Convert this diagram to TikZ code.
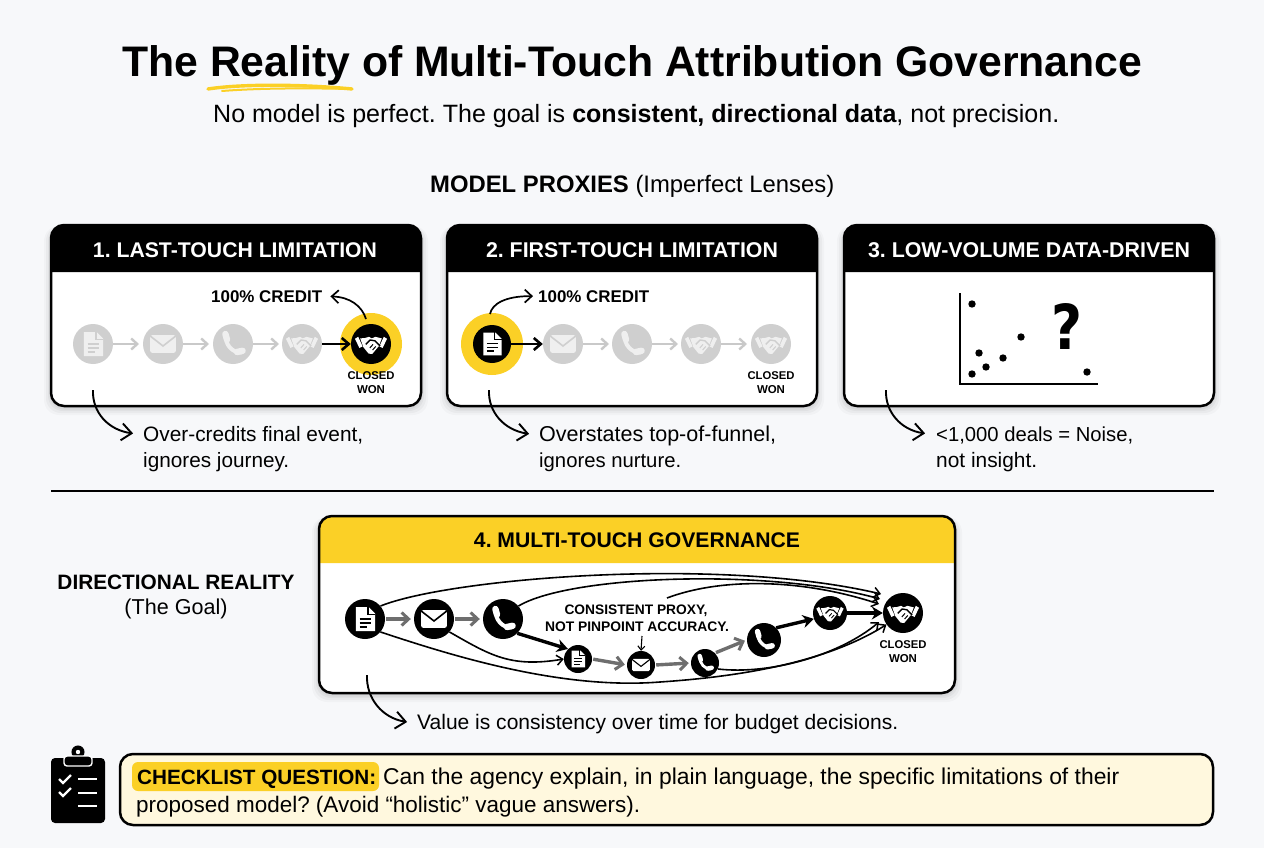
\documentclass[tikz,border=0pt]{standalone}
\usepackage{graphicx}
\usepackage{fontspec}
\setmainfont{Liberation Sans}
\newfontfamily\heavyq{DejaVu Sans}
\frenchspacing
\usetikzlibrary{arrows.meta}
\definecolor{bgc}{HTML}{F7F8FA}
\definecolor{ylw}{HTML}{FBD026}
\definecolor{gcirc}{HTML}{CFCFCF}
\definecolor{gicon}{HTML}{EFEFEF}
\definecolor{garrow}{HTML}{C9C9C9}
\definecolor{darrow}{HTML}{6E6E6E}
\definecolor{cream}{HTML}{FFF8DE}
\newcommand\fitw[2]{\resizebox{#1pt}{!}{#2}}
\tikzset{
  x=1pt,y=-1pt,
  txt/.style={inner sep=0pt,anchor=base west,text=black},
  ctr/.style={inner sep=0pt,anchor=base,text=black},
  dot/.style={circle,fill=black,inner sep=0pt,minimum size=7.4pt},
  callout/.style={line width=1.9pt,-{Straight Barb[length=10pt,width=17pt,line width=1.9pt]},black},
  credit/.style={line width=1.7pt,-{Straight Barb[length=7pt,width=13pt,line width=1.7pt]},black},
  lgarrow/.style={line width=2.6pt,-{Straight Barb[length=6pt,width=11pt,line width=2.4pt]},garrow},
  dkarrow/.style={line width=2.8pt,-{Straight Barb[length=7pt,width=12pt,line width=2.6pt]},black},
  grayflow/.style={line width=3.4pt,-{Straight Barb[length=7pt,width=13pt,line width=3pt]},darrow},
  blackflow/.style={line width=3.4pt,-{Stealth[length=11pt,width=13pt]},black},
  thinflow/.style={line width=1.6pt,-{Straight Barb[length=6pt,width=10pt,line width=1.5pt]},black},
}
% icons drawn in units of the circle radius
\newcommand\docicon[3]{\begin{scope}[shift={(#1)},x=#2pt,y=-#2pt]
  \fill[#3] (-0.46,-0.6)--(0.18,-0.6)--(0.5,-0.28)--(0.5,0.6)--(-0.46,0.6)--cycle;
  \draw[bgtmp,line width=0.07*#2pt] (0.14,-0.62)--(0.14,-0.24)--(0.52,-0.24);
  \draw[bgtmp,line width=0.09*#2pt] (-0.27,-0.02)--(0.3,-0.02) (-0.27,0.18)--(0.3,0.18) (-0.27,0.38)--(0.12,0.38);
\end{scope}}
\newcommand\mailicon[3]{\begin{scope}[shift={(#1)},x=#2pt,y=-#2pt]
  \fill[#3,rounded corners=0.1*#2pt] (-0.64,-0.44) rectangle (0.64,0.44);
  \draw[bgtmp,line width=0.08*#2pt] (-0.64,-0.4)--(0,0.1)--(0.64,-0.4);
\end{scope}}
\newcommand\phoneicon[3]{\begin{scope}[shift={(#1)},x=#2pt,y=-#2pt]
  \draw[#3,line width=0.2*#2pt,line cap=round] (-0.36,-0.42) .. controls (-0.4,0.02) and (-0.02,0.46) .. (0.42,0.42);
  \draw[#3,line width=0.32*#2pt,line cap=round] (-0.38,-0.5)--(-0.3,-0.22);
  \draw[#3,line width=0.32*#2pt,line cap=round] (0.2,0.4)--(0.48,0.34);
\end{scope}}
\newcommand\handicon[3]{\begin{scope}[shift={(#1)},x=#2pt,y=-#2pt]
  \fill[#3] (-0.8,-0.26)--(-0.64,-0.36)--(-0.42,0.12)--(-0.58,0.2)--cycle;
  \fill[#3] (0.8,-0.26)--(0.64,-0.36)--(0.42,0.12)--(0.58,0.2)--cycle;
  \fill[#3] (-0.54,-0.28)--(-0.3,-0.3)--(-0.1,-0.36)--(0.04,-0.28)--(0.22,-0.36)--(0.54,-0.28)--(0.38,0.12)--(0.06,0.5)--(-0.12,0.48)--(-0.38,0.16)--cycle;
  \draw[bgtmp,line width=0.07*#2pt,line join=round] (-0.26,0.02)--(-0.04,-0.2)--(0.2,-0.16)--(0.46,0.1);
  \draw[bgtmp,line width=0.05*#2pt] (0.24,0.12)--(0.08,0.3) (0.1,0.02)--(-0.06,0.2);
\end{scope}}
% \touch{name}{x}{y}{r}{icon}{bg}{fg}
\newcommand\touch[7]{%
  \colorlet{bgtmp}{#6}%
  \node[circle,fill=#6,inner sep=0pt,minimum size=2*#4pt] (#1) at (#2,#3) {};
  \csname #5icon\endcsname{#1}{#4}{#7}}
% \card{name}{x1}{y1}{x2}{y2}{yh}{header colour}
\newcommand\card[7]{%
  \foreach \s/\o in {7/0.025,5/0.03,3/0.035,1.5/0.04}{
    \fill[black,opacity=\o,rounded corners=15pt] (#2-\s,#3+1) rectangle (#4+\s,#5+\s+2);}
  \node[fill=white,rounded corners=13pt,inner sep=0pt,minimum width=(#4-#2)*1pt,minimum height=(#5-#3)*1pt] (#1) at ({(#2+#4)/2},{(#3+#5)/2}) {};
  \fill[#7] (#2,#6) [rounded corners=13pt] -- (#2,#3) -- (#4,#3) [sharp corners] -- (#4,#6) -- cycle;
  \draw[black,line width=2.5pt,rounded corners=13pt] (#2,#3) rectangle (#4,#5);}
\begin{document}
\begin{tikzpicture}
\useasboundingbox (0,0) rectangle (1264,848);
\fill[bgc] (0,0) rectangle (1264,848);

% title
\draw[ylw,line width=3.4pt,line cap=round] (208,89) .. controls (240,84) and (300,84) .. (352,89);
\draw[ylw,line width=2pt,line cap=round] (222,91) .. controls (260,88) and (310,88) .. (350,89);
\node[txt] (title) at (122,77) {\fitw{1020}{\bfseries The Reality of Multi-Touch Attribution Governance}};
\node[txt] (subtitle) at (213,123) {\fitw{846}{No model is perfect. The goal is \textbf{consistent, directional data}, not precision.}};
\node[txt] (proxies) at (430,192) {\fitw{404}{\textbf{MODEL PROXIES} (Imperfect Lenses)}};

% cards
\card{card1}{51}{225}{421}{406}{272}{black}
\card{card2}{447}{225}{817}{406}{272}{black}
\card{card3}{844}{225}{1214}{406}{272}{black}
\node[ctr,text=white] (head1) at (235,257) {\fitw{284}{\bfseries 1. LAST-TOUCH LIMITATION}};
\node[ctr,text=white] (head2) at (632,257) {\fitw{292}{\bfseries 2. FIRST-TOUCH LIMITATION}};
\node[ctr,text=white] (head3) at (1029,257) {\fitw{322}{\bfseries 3. LOW-VOLUME DATA-DRIVEN}};

% card 1
\touch{a1}{93}{344}{20}{doc}{gcirc}{gicon}
\touch{a2}{163}{344}{20}{mail}{gcirc}{gicon}
\touch{a3}{233}{344}{20}{phone}{gcirc}{gicon}
\touch{a4}{302}{344}{20}{hand}{gcirc}{gicon}
\node[circle,fill=ylw,inner sep=0pt,minimum size=62pt] (aring) at (371,344) {};
\touch{a5}{371}{344}{20}{hand}{black}{white}
\draw[lgarrow] (a1) ++(20,0) -- ++(26,0);
\draw[lgarrow] (a2) ++(20,0) -- ++(26,0);
\draw[lgarrow] (a3) ++(20,0) -- ++(26,0);
\draw[dkarrow] (a4.east) -- (a5.west);
\node[txt] (credit1) at (211,302) {\fitw{111}{\bfseries 100\% CREDIT}};
\draw[credit,shorten >=8pt] (366,319) .. controls (362,306) and (350,297) .. (credit1.east);
\node[ctr] (cw1) at (371,379) {\fitw{47}{\bfseries CLOSED}};
\node[ctr] (cw2) at (371,393) {\fitw{28}{\bfseries WON}};
\coordinate (s1) at (93,390);
\node[txt] (t1a) at (143,441) {\fitw{220}{Over-credits final event,}};
\node[txt] (t1b) at (143,467) {\fitw{146}{ignores journey.}};
\draw[callout,shorten >=10pt] (s1) .. controls (92,412) and (108,430) .. (t1a.west);

% card 2
\node[circle,fill=ylw,inner sep=0pt,minimum size=62pt] (bring) at (492,344) {};
\touch{b1}{492}{344}{19}{doc}{black}{white}
\touch{b2}{563}{344}{20}{mail}{gcirc}{gicon}
\touch{b3}{632}{344}{20}{phone}{gcirc}{gicon}
\touch{b4}{701}{344}{20}{hand}{gcirc}{gicon}
\touch{b5}{771}{344}{20}{hand}{gcirc}{gicon}
\draw[dkarrow] (b1.east) -- (b2.west);
\draw[lgarrow] (b2) ++(20,0) -- ++(26,0);
\draw[lgarrow] (b3) ++(20,0) -- ++(26,0);
\draw[lgarrow] (b4) ++(20,0) -- ++(26,0);
\node[txt] (credit2) at (538,302) {\fitw{111}{\bfseries 100\% CREDIT}};
\draw[credit,shorten >=5pt] (490,314) .. controls (492,304) and (505,296) .. (credit2.west);
\node[ctr] (cw3) at (771,379) {\fitw{47}{\bfseries CLOSED}};
\node[ctr] (cw4) at (771,393) {\fitw{28}{\bfseries WON}};
\coordinate (s2) at (489,390);
\node[txt] (t2a) at (539,441) {\fitw{237}{Overstates top-of-funnel,}};
\node[txt] (t2b) at (539,467) {\fitw{142}{ignores nurture.}};
\draw[callout,shorten >=10pt] (s2) .. controls (488,412) and (504,430) .. (t2a.west);

% card 3
\coordinate (axtop) at (960,293);
\coordinate (axorigin) at (960,384);
\coordinate (axright) at (1098,384);
\draw[black,line width=1.6pt] (axtop) -- (axorigin) -- (axright);
\node[dot] (p1) at (972,304) {};
\node[dot] (p2) at (979,353) {};
\node[dot] (p3) at (1003,358) {};
\node[dot] (p4) at (986,367) {};
\node[dot] (p5) at (972,374) {};
\node[dot] (p6) at (1021,337) {};
\node[dot] (p7) at (1087,372) {};
\node[inner sep=0pt,text=black] (qm) at (1067,326) {\resizebox{31pt}{46pt}{\heavyq\bfseries ?}};
\coordinate (s3) at (886,390);
\node[txt] (t3a) at (936,441) {\fitw{197}{<1,000 deals = Noise,}};
\node[txt] (t3b) at (936,467) {\fitw{101}{not insight.}};
\draw[callout,shorten >=11pt] (s3) .. controls (885,412) and (901,430) .. (t3a.west);

% divider
\coordinate (divl) at (51,491);
\coordinate (divr) at (1214,491);
\draw[black,line width=2pt] (divl) -- (divr);

% card 4
\node[ctr] (dir) at (176,589) {\fitw{237}{\bfseries DIRECTIONAL REALITY}};
\node[ctr] (goal) at (176,614) {\fitw{103}{(The Goal)}};
\card{card4}{319}{516}{955}{693}{563}{ylw}
\node[ctr] (head4) at (637,547) {\fitw{326}{\bfseries 4. MULTI-TOUCH GOVERNANCE}};

\touch{c1}{365}{619}{20}{doc}{black}{white}
\touch{c2}{434}{619}{20}{mail}{black}{white}
\touch{c3}{503}{619}{20}{phone}{black}{white}
\touch{c4}{578}{659}{14}{doc}{black}{white}
\touch{c5}{641}{665}{14}{mail}{black}{white}
\touch{c6}{705}{663}{14}{phone}{black}{white}
\touch{c7}{764}{640}{17}{phone}{black}{white}
\touch{c8}{830}{613}{17}{hand}{black}{white}
\touch{c9}{903}{613}{20}{hand}{black}{white}
\node[ctr] (cw5) at (903,648) {\fitw{47}{\bfseries CLOSED}};
\node[ctr] (cw6) at (903,662) {\fitw{28}{\bfseries WON}};

\draw[grayflow,shorten <=1pt,shorten >=3pt] (c1.east) -- (c2.west);
\draw[grayflow,shorten <=1pt,shorten >=3pt] (c2.east) -- (c3.west);
\draw[grayflow,shorten <=1pt,shorten >=2pt] (c4.east) -- (c5.west);
\draw[grayflow,shorten <=1pt,shorten >=2pt] (c5.east) -- (c6.west);
\draw[grayflow,shorten <=1pt,shorten >=2pt] (c6.north east) -- (c7.west);
\draw[blackflow] (c3.-45) -- (c4.north west);
\draw[blackflow] (c7.north east) -- (c8.-160);
\draw[blackflow] (c8.east) -- (c9.west);

\draw[thinflow] (c1.40) .. controls (450,578) and (720,556) .. (881,594);
\draw[thinflow] (c3.40) .. controls (570,575) and (770,568) .. (880,599);
\coordinate (s4) at (667,598);
\draw[thinflow] (s4) .. controls (720,578) and (800,578) .. (879,604);
\draw[thinflow] (c1.-40) .. controls (450,655) and (560,690) .. (660,682) .. controls (750,676) and (830,660) .. (c9.-145);
\draw[thinflow] (c2.-40) .. controls (490,655) and (510,668) .. (c4.west);
\draw[thinflow] (c6.-25) .. controls (770,675) and (840,655) .. (879,622);

\node[ctr] (prox1) at (636,614) {\fitw{143}{\bfseries CONSISTENT PROXY,}};
\node[ctr] (prox2) at (637,631) {\fitw{184}{\bfseries NOT PINPOINT ACCURACY.}};
\draw[line width=1.1pt,-{Straight Barb[length=4pt,width=7pt,line width=1.1pt]},black] (642,636) -- (c5.north);

\coordinate (s5) at (367,675);
\node[txt] (value) at (417,729) {\fitw{481}{Value is consistency over time for budget decisions.}};
\draw[callout,shorten >=10pt] (s5) .. controls (366,698) and (382,718) .. (value.west);

% checklist
\begin{scope}
  \fill[black,rounded corners=4pt] (51,758) rectangle (105,823);
  \draw[black,fill=black,line width=1pt] (78,752) circle (6);
  \fill[white] (78,752) circle (2.2);
  \draw[fill=black,draw=white,line width=1.4pt,rounded corners=3pt] (64,756) rectangle (92,766);
  \draw[white,line width=2.2pt] (59,779)--(63,783)--(71,775) (59,792)--(63,796)--(71,788);
  \draw[white,line width=2.2pt] (78,779)--(97,779) (78,793)--(97,793) (78,806)--(97,806);
\end{scope}
\node[draw=black,fill=cream,line width=2.5pt,rounded corners=13pt,inner sep=0pt,minimum width=1093pt,minimum height=71pt] (qbox) at (666.5,789.5) {};
\node[fill=ylw,rounded corners=6pt,inner sep=0pt,minimum width=247pt,minimum height=29pt] (qhl) at (255.5,776.5) {};
\node[txt] (q1) at (137,784) {\fitw{239}{\bfseries CHECKLIST QUESTION:}};
\node[txt] (q2) at (383,784) {\fitw{736}{Can the agency explain, in plain language, the specific limitations of their}};
\node[txt] (q3) at (136,812) {\fitw{504}{proposed model? (Avoid “holistic” vague answers).}};
\end{tikzpicture}
\end{document}
